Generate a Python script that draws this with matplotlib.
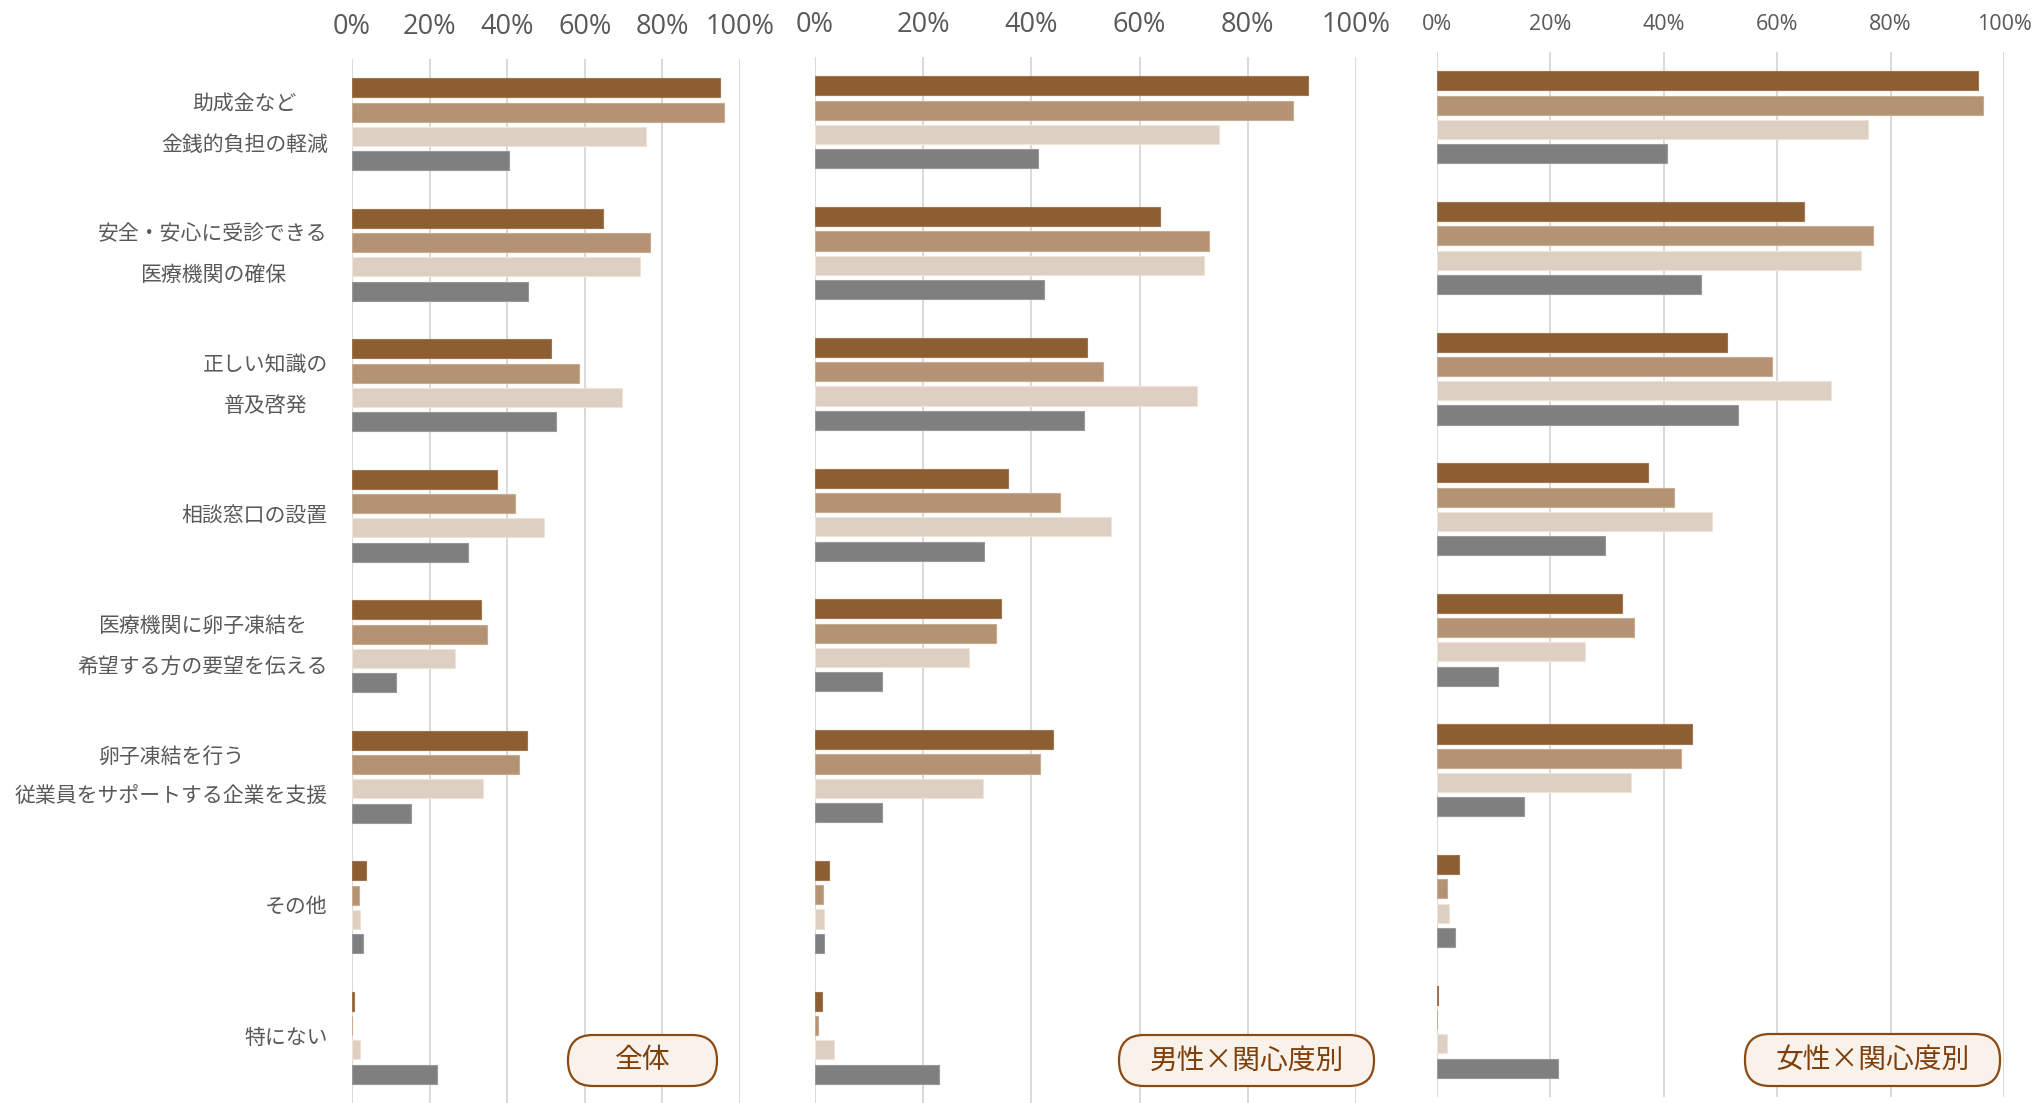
import matplotlib
matplotlib.use("Agg")
import matplotlib.pyplot as plt
import numpy as np
from matplotlib.patches import FancyBboxPatch
from matplotlib.ticker import FuncFormatter

plt.rcParams['font.family'] = ['Noto Sans CJK JP', 'DejaVu Sans']

# categories (top to bottom)
categories = [
    "助成金など\n金銭的負担の軽減",
    "安全・安心に受診できる\n医療機関の確保",
    "正しい知識の\n普及啓発",
    "相談窓口の設置",
    "医療機関に卵子凍結を\n希望する方の要望を伝える",
    "卵子凍結を行う\n従業員をサポートする企業を支援",
    "その他",
    "特にない",
]

# values in %, four series per panel
total_s1 = [94.9, 64.7, 51.4, 37.4, 33.2, 45.0, 3.7, 0.4]
total_s2 = [95.8, 76.7, 58.6, 42.1, 34.9, 43.0, 1.7, 0.0]
total_s3 = [75.9, 74.3, 69.7, 49.5, 26.6, 33.8, 2.1, 2.1]
total_s4 = [40.5, 45.4, 52.5, 29.9, 11.3, 15.1, 2.9, 21.8]

male_s1 = [91.1, 63.7, 50.2, 35.7, 34.3, 44.0, 2.5, 1.3]
male_s2 = [88.3, 72.9, 53.2, 45.2, 33.5, 41.6, 1.4, 0.6]
male_s3 = [74.7, 71.9, 70.7, 54.8, 28.4, 31.0, 1.7, 3.5]
male_s4 = [41.2, 42.3, 49.7, 31.2, 12.4, 12.4, 1.7, 23.0]

female_s1 = [95.5, 64.7, 51.1, 37.3, 32.7, 45.0, 3.8, 0.1]
female_s2 = [96.3, 76.9, 59.0, 41.8, 34.8, 43.1, 1.7, 0.0]
female_s3 = [76.1, 74.7, 69.5, 48.5, 26.1, 34.2, 2.1, 1.7]
female_s4 = [40.5, 46.6, 53.1, 29.7, 10.8, 15.4, 3.1, 21.4]

ticks = [0, 20, 40, 60, 80, 100]
panel_titles = ["全体", "男性×関心度別", "女性×関心度別"]

colors = ['#8C5E32', '#B39373', '#DDCFC2', '#7F7F7F']
edge_colors = ['#A07650', '#C8AC90', '#EEE4DA', '#999999']

W, H = 2039, 1103
fig = plt.figure(figsize=(W / 100, H / 100), dpi=100)

# axes boxes in pixels: (left, right, top, bottom)
boxes = [(352, 740, 59, 1103), (815, 1356, 57, 1103), (1437, 2004, 52, 1097)]
tick_sizes = [19.5, 19.5, 15.5]
tick_pads = [13, 13, 12]
badges = [(567, 718, 1034, 1087), (1118, 1375, 1034, 1087), (1744, 2001, 1033, 1087)]

panels = [
    [total_s1, total_s2, total_s3, total_s4],
    [male_s1, male_s2, male_s3, male_s4],
    [female_s1, female_s2, female_s3, female_s4],
]

y = np.arange(len(categories))
pitch = 0.186
bar_h = 0.146

for k, series in enumerate(panels):
    l, r, t, b = boxes[k]
    ax = fig.add_axes([l / W, (H - b) / H, (r - l) / W, (b - t) / H])
    for j, vals in enumerate(series):
        ax.barh(y + (j - 1.5) * pitch, vals, height=bar_h, color=colors[j],
                edgecolor=edge_colors[j], linewidth=0.8, zorder=3)
    ax.set_xlim(0, 100)
    ax.set_ylim(len(categories) - 0.5, -0.5)
    ax.set_xticks(ticks)
    ax.xaxis.set_major_formatter(FuncFormatter(lambda v, p: f"{int(v)}%"))
    ax.xaxis.tick_top()
    ax.tick_params(axis='x', length=0, pad=tick_pads[k], labelsize=tick_sizes[k],
                   labelcolor='#595959')
    ax.set_yticks([])
    ax.grid(axis='x', color='#D9D9D9', linewidth=1.4, zorder=0)
    for s in ax.spines.values():
        s.set_visible(False)
    for lab in ax.get_xticklabels():
        lab.set_family(['Open Sans', 'DejaVu Sans'])

    if k == 0:
        for i, cat in enumerate(categories):
            ax.text(-0.062, i, cat, transform=ax.get_yaxis_transform(),
                    ha='right', va='center', multialignment='center',
                    fontsize=15, color='#595959', linespacing=2.1)

    # panel badge
    bl, br, bt, bb = badges[k]
    patch = FancyBboxPatch(((bl + 1) / 100, (H - bb + 1) / 100), (br - bl - 2) / 100,
                           (bb - bt - 2) / 100,
                           boxstyle='round,pad=0,rounding_size=0.25',
                           transform=fig.dpi_scale_trans, facecolor='#F8F2EB',
                           edgecolor='#8B4A12', linewidth=1.6, zorder=10)
    fig.patches.append(patch)
    fig.text((bl + br) / 2 / W, (H - (bt + bb) / 2) / H, panel_titles[k],
             ha='center', va='center', fontsize=20, color='#7F3F0A', zorder=11)

fig.savefig('out.png', dpi=100, facecolor='white')
